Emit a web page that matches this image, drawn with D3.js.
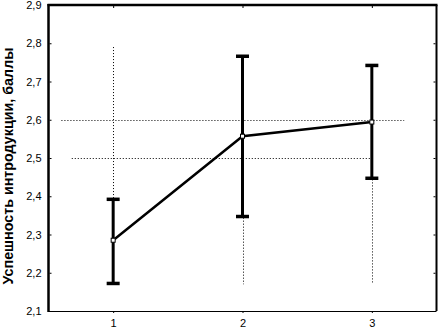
<!DOCTYPE html>
<html><head><meta charset="utf-8">
<script src="https://cdn.jsdelivr.net/npm/d3@7"></script>
<style>body{margin:0;background:#fff}svg{display:block}text{font-family:"Liberation Sans",Arial,sans-serif;fill:#000}</style>
</head><body>
<svg id="c" width="438" height="329"></svg>
<script>
const categories = [1, 2, 3];
const means = [2.285, 2.557, 2.594];
const upper = [2.392, 2.766, 2.742];
const lower = [2.172, 2.347, 2.447];
const yTicks = [2.1, 2.2, 2.3, 2.4, 2.5, 2.6, 2.7, 2.8, 2.9];
const xTicks = [1, 2, 3];
const yTitle = "Успешность интродукции, баллы";
// dotted guide segments (as seen in the picture)
const hGuides = [{y: 2.6, x0: 0.6, x1: 3.25}, {y: 2.5, x0: 0.68, x1: 3.02}];
const vGuides = [{x: 1, y0: 2.79, y1: 2.395}, {x: 2, y0: 2.344, y1: 2.17}, {x: 3, y0: 2.444, y1: 2.17}];

const L = 48.5, R = 436.5, T = 5, B = 311;
const svg = d3.select("#c");
const x = d3.scaleLinear().domain([0.5, 3.5]).range([L, R]);
const y = d3.scaleLinear().domain([2.1, 2.9]).range([B, T]);
const fmt = d => d3.format(".1f")(d).replace(".", ",");

// guides
svg.selectAll(".hg").data(hGuides).join("line")
  .attr("x1", d => x(d.x0)).attr("x2", d => x(d.x1))
  .attr("y1", d => Math.round(y(d.y)) + 0.5).attr("y2", d => Math.round(y(d.y)) + 0.5)
  .attr("stroke", "#000").attr("stroke-width", 1).attr("stroke-dasharray", "1,2");
svg.selectAll(".vg").data(vGuides).join("line")
  .attr("x1", d => Math.round(x(d.x)) + 0.5).attr("x2", d => Math.round(x(d.x)) + 0.5)
  .attr("y1", d => y(d.y0)).attr("y2", d => y(d.y1))
  .attr("stroke", "#000").attr("stroke-width", 1).attr("stroke-dasharray", "1,2");

// frame
svg.append("line").attr("x1", L).attr("x2", R).attr("y1", B + 0.5).attr("y2", B + 0.5).attr("stroke", "#000").attr("stroke-width", 1);
svg.append("line").attr("x1", R).attr("x2", R).attr("y1", T).attr("y2", B).attr("stroke", "#000").attr("stroke-width", 2);
svg.append("line").attr("x1", L - 1).attr("x2", R + 1).attr("y1", T).attr("y2", T).attr("stroke", "#000").attr("stroke-width", 2.5);
svg.append("line").attr("x1", L).attr("x2", L).attr("y1", T - 1).attr("y2", B + 1).attr("stroke", "#000").attr("stroke-width", 2.5);

// y axis labels (left)
const yAxis = d3.axisLeft(y).tickValues(yTicks).tickFormat(fmt).tickSize(0).tickPadding(7);
const gy = svg.append("g").attr("transform", `translate(${L},0)`).call(yAxis);
gy.select(".domain").remove();
gy.selectAll("text").style("font-size", "11px").style("font-family", "Liberation Sans, Arial, sans-serif");

// left inner ticks
const gl = svg.append("g").attr("transform", `translate(${L + 1},0)`).call(d3.axisRight(y).tickValues(yTicks.slice(1, -1)).tickSize(2).tickFormat(""));
gl.select(".domain").remove();
// right inner ticks
const gr = svg.append("g").attr("transform", `translate(${R - 1},0)`).call(d3.axisLeft(y).tickValues(yTicks.slice(1, -1)).tickSize(2).tickFormat(""));
gr.select(".domain").remove();

// x axis
const xAxis = d3.axisBottom(x).tickValues(xTicks).tickFormat(d3.format("d")).tickSize(2).tickPadding(6);
const gx = svg.append("g").attr("transform", `translate(0,${B})`).call(xAxis);
gx.select(".domain").remove();
gx.selectAll("text").style("font-size", "11px").style("font-family", "Liberation Sans, Arial, sans-serif");
// top ticks
const gt = svg.append("g").attr("transform", `translate(0,${T + 1})`).call(d3.axisBottom(x).tickValues(xTicks).tickSize(2).tickFormat(""));
gt.select(".domain").remove();

// y title
svg.append("text").attr("transform", `translate(13,166) rotate(-90)`)
  .attr("text-anchor", "middle").style("font-size", "14.3px").style("font-weight", "bold").text(yTitle);

const data = categories.map((c, i) => ({c, m: means[i], hi: upper[i], lo: lower[i]}));

// error bars
svg.selectAll(".eb").data(data).join("line")
  .attr("x1", d => x(d.c)).attr("x2", d => x(d.c))
  .attr("y1", d => y(d.hi)).attr("y2", d => y(d.lo))
  .attr("stroke", "#000").attr("stroke-width", 3);
svg.selectAll(".cap").data(data.flatMap(d => [d.hi, d.lo].map(v => ({c: d.c, v})))).join("line")
  .attr("x1", d => x(d.c) - 6.5).attr("x2", d => x(d.c) + 6.5)
  .attr("y1", d => y(d.v)).attr("y2", d => y(d.v))
  .attr("stroke", "#000").attr("stroke-width", 3.5);

// mean line
svg.append("path").datum(data)
  .attr("d", d3.line().x(d => x(d.c)).y(d => y(d.m)))
  .attr("fill", "none").attr("stroke", "#000").attr("stroke-width", 2.5);

// markers
svg.selectAll(".pt").data(data).join("rect")
  .attr("x", d => x(d.c) - 2).attr("y", d => y(d.m) - 2)
  .attr("width", 4).attr("height", 4)
  .attr("fill", "#fff").attr("stroke", "#000").attr("stroke-width", 1);
</script>
</body></html>
